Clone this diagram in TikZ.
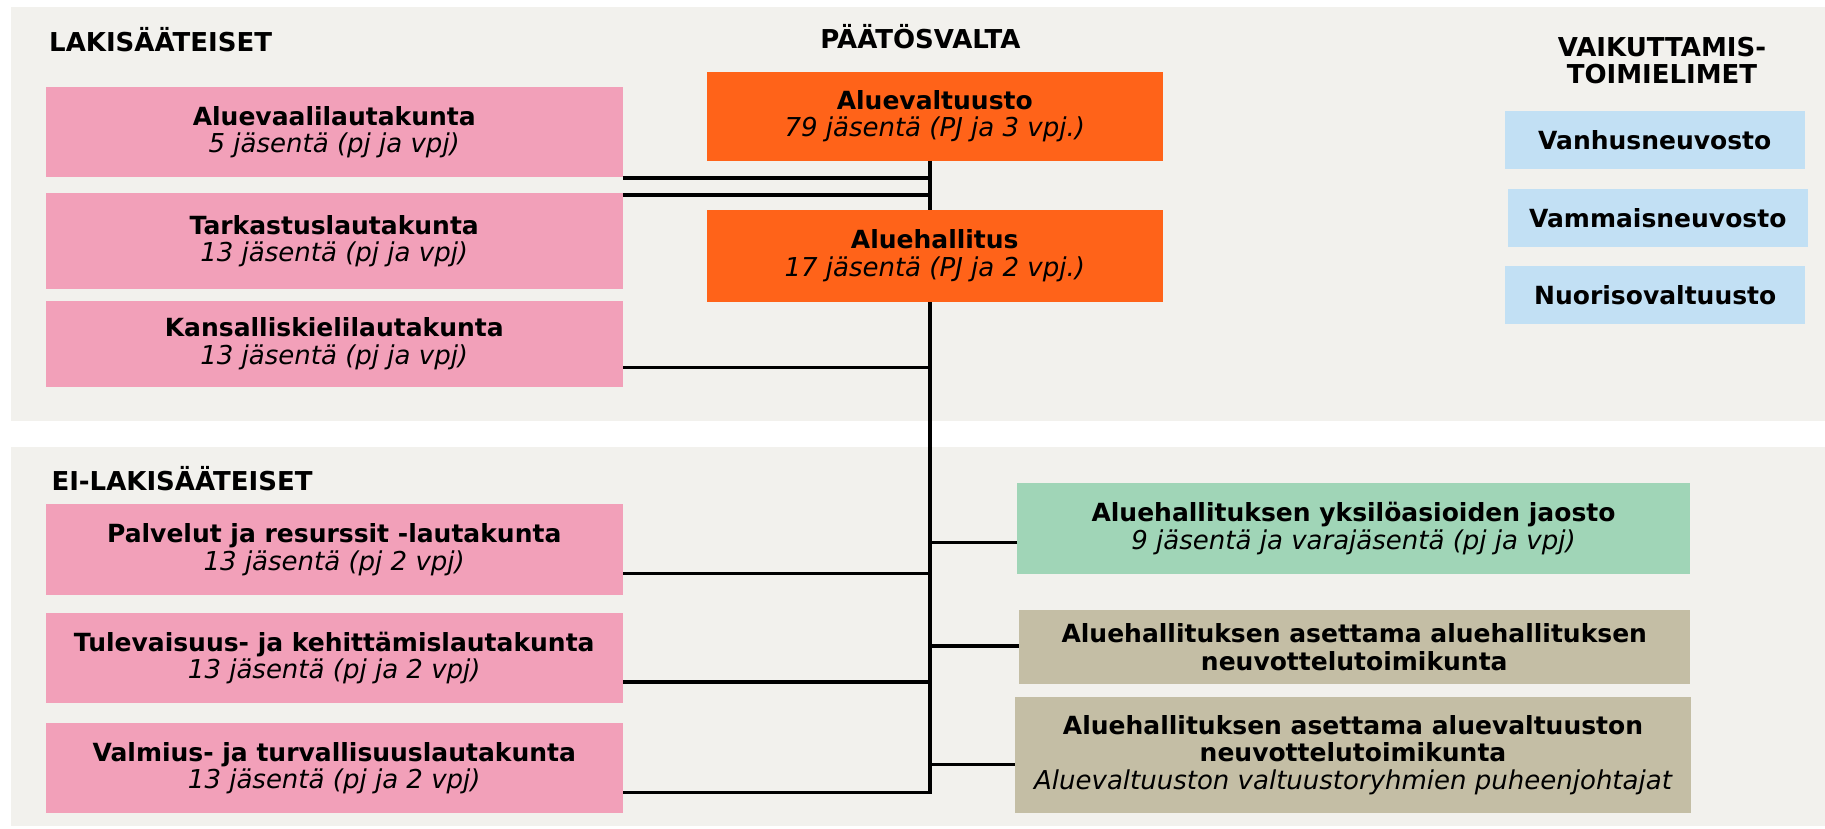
\documentclass[tikz,border=0pt]{standalone}
\usepackage{fontspec}
\setmainfont{DejaVu Sans}
\definecolor{panelc}{RGB}{242,241,237}
\definecolor{pinkc}{RGB}{242,160,185}
\definecolor{orangec}{RGB}{255,99,25}
\definecolor{bluec}{RGB}{194,224,244}
\definecolor{greenc}{RGB}{160,213,183}
\definecolor{tanc}{RGB}{196,190,165}
\newcommand{\itl}[1]{{\mdseries\itshape\fontsize{26}{27.5}\selectfont #1}}
\begin{document}
\begin{tikzpicture}[x=1pt,y=-1pt,
  box/.style={inner sep=0pt, align=center, font=\fontsize{25}{27.5}\selectfont\bfseries},
  two/.style={box, execute at begin node={\rule{0pt}{23pt}}},
  lk/.style={two, fill=pinkc, minimum width=577.5pt},
  pv/.style={two, fill=orangec, minimum width=455.5pt},
  vk/.style={box, fill=bluec, minimum width=300.3pt, minimum height=58.6pt},
  hdr/.style={inner sep=0pt, font=\fontsize{26}{28}\selectfont\bfseries},
  conn/.style={line width=3.5pt, draw=black}]
\useasboundingbox (0,0) rectangle (1825,828);
\fill[white] (0,0) rectangle (1825,828);
\fill[panelc] (11,7) rectangle (1825,420.5);
\fill[panelc] (11,446.7) rectangle (1825,826);

% headers
\node[hdr, anchor=base west] (h1) at (49,51.7) {LAKISÄÄTEISET};
\node[hdr, anchor=base] (h2) at (920.5,48.3) {PÄÄTÖSVALTA};
\node[hdr, anchor=base] (h3a) at (1662,56.7) {VAIKUTTAMIS-};
\node[hdr, anchor=base] (h3b) at (1662,83.3) {TOIMIELIMET};
\node[hdr, anchor=base west] (h4) at (51.3,490) {EI-LAKISÄÄTEISET};

\coordinate (tb) at (930,794);

\node[lk, minimum height=90pt] (a1) at (334.25,132.3) {Aluevaalilautakunta\\\itl{5 jäsentä (pj ja vpj)}};
\node[lk, minimum height=95.4pt] (a2) at (334.25,241) {Tarkastuslautakunta\\\itl{13 jäsentä (pj ja vpj)}};
\node[lk, minimum height=85.7pt] (a3) at (334.25,343.8) {Kansalliskielilautakunta\\\itl{13 jäsentä (pj ja vpj)}};
\node[lk, minimum height=90.7pt] (b1) at (334.25,549.7) {Palvelut ja resurssit -lautakunta\\\itl{13 jäsentä (pj 2 vpj)}};
\node[lk, minimum height=90.6pt] (b2) at (334.25,658) {Tulevaisuus- ja kehittämislautakunta\\\itl{13 jäsentä (pj ja 2 vpj)}};
\node[lk, minimum height=90pt] (b3) at (334.25,768.3) {Valmius- ja turvallisuuslautakunta\\\itl{13 jäsentä (pj ja 2 vpj)}};

\node[pv, minimum height=89pt] (o1) at (934.75,116.2) {Aluevaltuusto\\\itl{79 jäsentä (PJ ja 3 vpj.)}};

\draw[conn] (o1.south -| tb) -- (tb);
\draw[conn] ([yshift=-0.5pt]a1.south east) -- ([yshift=-0.5pt]a1.south east -| tb);
\draw[conn] ([yshift=-1.7pt]a2.north east) -- ([yshift=-1.7pt]a2.north east -| tb);
\draw[conn] ([yshift=-23.9pt]a3.east) -- ([yshift=-23.9pt]a3.east -| tb);
\draw[conn] ([yshift=-23.6pt]b1.east) -- ([yshift=-23.6pt]b1.east -| tb);
\draw[conn] ([yshift=-24pt]b2.east) -- ([yshift=-24pt]b2.east -| tb);
\draw[conn] ([yshift=-24pt]b3.east) -- ([yshift=-24pt]b3.east -| tb);

\node[pv, minimum height=91.7pt] (o2) at (934.75,255.8) {Aluehallitus\\\itl{17 jäsentä (PJ ja 2 vpj.)}};

\node[vk] (v1) at (1654.75,140) {Vanhusneuvosto};
\node[vk] (v2) at (1657.75,218) {Vammaisneuvosto};
\node[vk] (v3) at (1655.2,295) {Nuorisovaltuusto};

\node[two, fill=greenc, minimum width=672.4pt, minimum height=90.7pt] (g) at (1353.5,528.65) {Aluehallituksen yksilöasioiden jaosto\\\itl{9 jäsentä ja varajäsentä (pj ja vpj)}};
\node[box, fill=tanc, minimum width=670.9pt, minimum height=74pt] (t1) at (1354.25,647) {Aluehallituksen asettama aluehallituksen\\neuvottelutoimikunta};
\node[box, fill=tanc, minimum width=676pt, minimum height=115.4pt] (t2) at (1353,755) {Aluehallituksen asettama aluevaltuuston\\neuvottelutoimikunta\\\itl{Aluevaltuuston valtuustoryhmien puheenjohtajat}};

\draw[conn] ([yshift=-13.8pt]g.west) -- ([yshift=-13.8pt]g.west -| tb);
\draw[conn] ([yshift=1pt]t1.west) -- ([yshift=1pt]t1.west -| tb);
\draw[conn] ([yshift=-9.3pt]t2.west) -- ([yshift=-9.3pt]t2.west -| tb);
\end{tikzpicture}
\end{document}
